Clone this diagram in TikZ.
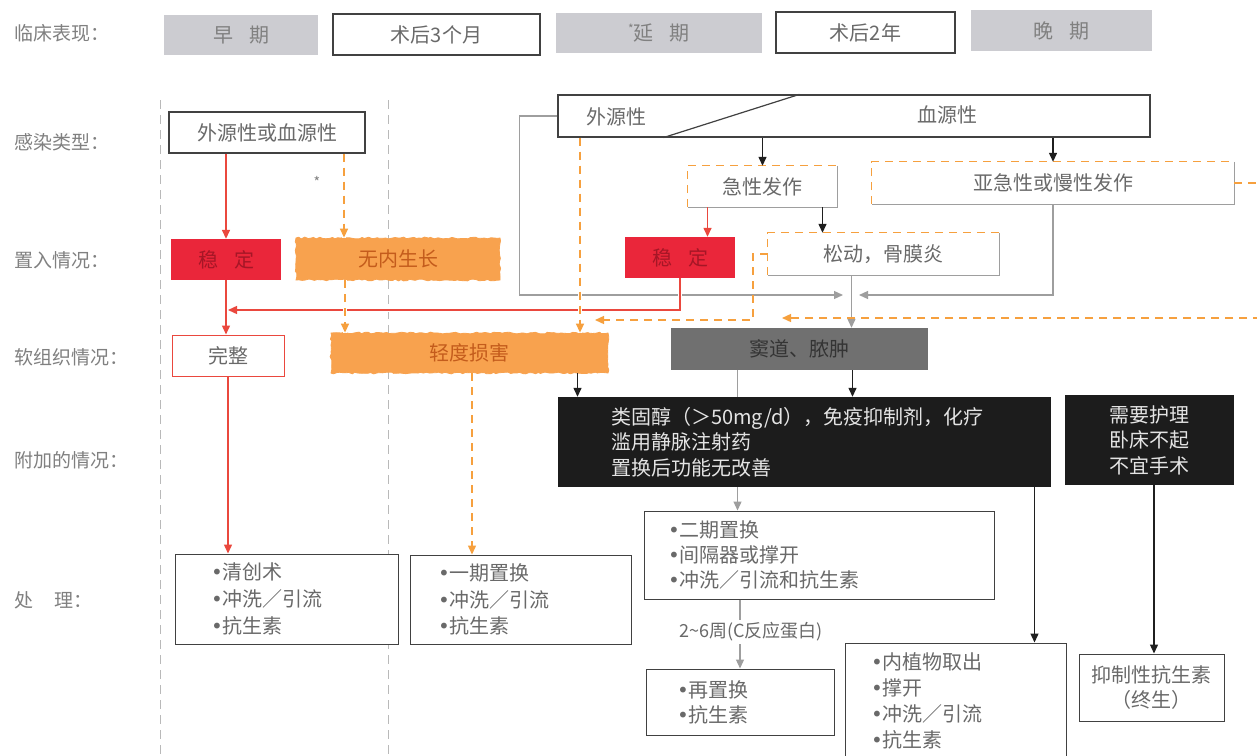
\documentclass[tikz,border=0pt]{standalone}
\usepackage{fontspec}
\setmainfont{Noto Sans CJK SC}
\newfontfamily\dejfont{DejaVu Sans}
\newcommand\mybul{{\dejfont •}}
\usetikzlibrary{arrows.meta,decorations.pathmorphing}
\definecolor{lbl}{RGB}{128,128,128}
\definecolor{txt}{RGB}{105,105,105}
\definecolor{bord}{RGB}{65,65,65}
\definecolor{hatch}{RGB}{204,204,209}
\definecolor{rd}{RGB}{234,38,58}
\definecolor{rdtxt}{RGB}{165,22,38}
\definecolor{rdline}{RGB}{234,72,62}
\definecolor{org}{RGB}{248,162,78}
\definecolor{orgtxt}{RGB}{196,92,28}
\definecolor{orgline}{RGB}{246,160,62}
\definecolor{gline}{RGB}{158,158,158}
\definecolor{sinusfill}{RGB}{112,112,112}
\definecolor{sinustxt}{RGB}{52,52,52}
\definecolor{blk}{RGB}{28,28,28}
\definecolor{blktxt}{RGB}{228,228,228}
\pgfmathsetseed{7}
\begin{document}
\begin{tikzpicture}[x=1pt,y=-1pt,
  every node/.style={font=\fontsize{20}{26}\selectfont, inner sep=0pt},
  lab/.style={anchor=west, text=lbl, font=\fontsize{19}{24}\selectfont},
  hbox/.style={fill=hatch, text=lbl},
  wbox/.style={draw=bord, line width=1.2pt, fill=white, text=txt},
  tbox/.style={draw=bord, line width=1pt, fill=white, text=txt, align=left},
  stabbox/.style={fill=rd, text=rdtxt},
  orbox/.style={fill=org, draw=org, line width=0.8pt, text=orgtxt, decorate,
    decoration={random steps, segment length=3pt, amplitude=0.9pt}},
  mixbox/.style={text=txt},
  blkbox/.style={fill=blk, text=blktxt},
  tip/.style={-{Triangle[length=9pt,width=8pt]}},
  redln/.style={draw=rdline, line width=1.4pt, tip},
  orln/.style={draw=orgline, line width=1.4pt, dash pattern=on 8pt off 6pt, tip},
  blkln/.style={draw=black!88, line width=1.3pt, tip},
  grln/.style={draw=gline, line width=1.2pt},
  grarr/.style={grln, tip},
  halo/.style={preaction={draw=white, line width=4.5pt, solid, -}},
  vline/.style={draw=gray!55, line width=1pt, dash pattern=on 9pt off 6pt},
  ordash/.style={draw=orgline, line width=1.3pt, dash pattern=on 8pt off 6pt},
  grbord/.style={draw=gline, line width=1pt}
]
\fill[white] (0,0) rectangle (1257,755);
\useasboundingbox (0,0) rectangle (1257,755);

% column separators
\draw[vline] (160,100) -- (160,755);
\draw[vline] (388,100) -- (388,755);

% row labels
\node[lab] (l1) at (14,33) {临床表现：};
\node[lab] (l2) at (14,142) {感染类型：};
\node[lab] (l3) at (14,260) {置入情况：};
\node[lab] (l4) at (14,357) {软组织情况：};
\node[lab] (l5) at (14,460) {附加的情况：};
\node[lab] (l6) at (14,600) {处\hspace{1.1em}理：};

% top row
\node[hbox, minimum width=154pt, minimum height=40pt] (t1) at (241,35) {早\hspace{0.8em}期};
\node[wbox, minimum width=207pt, minimum height=41pt] (t2) at (436.5,34.5) {术后3个月};
\node[hbox, minimum width=206pt, minimum height=40pt] (t3) at (659,33) {\raisebox{0.35em}{\fontsize{12}{12}\selectfont *}延\hspace{0.8em}期};
\node[wbox, minimum width=179pt, minimum height=41pt] (t4) at (865.5,32.5) {术后2年};
\node[hbox, minimum width=181pt, minimum height=41pt] (t5) at (1061.5,30.5) {晚\hspace{0.8em}期};

% infection type
\node[wbox, minimum width=196pt, minimum height=41pt] (src) at (267,132.5) {外源性或血源性};
\node[wbox, minimum width=592pt, minimum height=42pt] (big) at (854,116) {};
\draw[bord, line width=1.2pt] ([xshift=106pt]big.south west) -- ([xshift=242pt]big.north west);
\node[text=txt] (exo) at (616,117) {外源性};
\node[text=txt] (hem) at (947,115) {血源性};
\node[text=lbl, font=\fontsize{14}{14}\selectfont] (ast) at (317,182) {*};

% onset
\node[mixbox, minimum width=149pt, minimum height=41pt] (acute) at (762.5,186.5) {急性发作};
\node[mixbox, minimum width=362pt, minimum height=42pt] (sub) at (1053,183) {亚急性或慢性发作};
\node[mixbox, minimum width=231pt, minimum height=42pt] (loose) at (883.5,254) {松动，骨膜炎};
\foreach \n in {acute,sub,loose}{
  \draw[grbord] (\n.north east) -- (\n.south east) -- (\n.south west);
  \draw[ordash] (\n.south west) -- (\n.north west) -- (\n.north east);
}

% implant
\node[stabbox, minimum width=110pt, minimum height=41pt] (stab1) at (226,259.5) {稳\hspace{0.8em}定};
\node[orbox, minimum width=204pt, minimum height=42pt] (noin) at (398,259) {无内生长};
\node[stabbox, minimum width=110pt, minimum height=41pt] (stab2) at (680,257.5) {稳\hspace{0.8em}定};

% soft tissue
\node[draw=rdline, line width=1pt, fill=white, text=txt, minimum width=112pt, minimum height=41pt] (intact) at (228,355.5) {完整};
\node[orbox, minimum width=277pt, minimum height=40pt] (mild) at (469.5,353) {轻度损害};
\node[fill=sinusfill, text=sinustxt, minimum width=257pt, minimum height=42pt] (sinus) at (799.5,349) {窦道、脓肿};

% additional
\node[blkbox, text width=387pt, inner xsep=53pt, minimum height=90pt, align=left, font=\fontsize{20}{25.5}\selectfont] (blk1) at (804.5,442)
  {类固醇（＞50mg/d），免疫抑制剂，化疗\\滥用静脉注射药\\置换后功能无改善};
\node[blkbox, minimum width=169pt, minimum height=90pt, align=center, font=\fontsize{20}{25.5}\selectfont] (blk2) at (1149.5,440)
  {需要护理\\卧床不起\\不宜手术};

% treatment
\node[tbox, text width=151pt, inner xsep=36pt, minimum height=90pt, font=\fontsize{20}{27}\selectfont] (tr1) at (286.5,599)
  {\mybul 清创术\\\mybul 冲洗／引流\\\mybul 抗生素};
\node[tbox, text width=165pt, inner xsep=28pt, minimum height=89pt, font=\fontsize{20}{26.5}\selectfont] (tr2) at (520.5,599.5)
  {\mybul 一期置换\\\mybul 冲洗／引流\\\mybul 抗生素};
\node[tbox, text width=302pt, inner xsep=24pt, minimum height=88pt, font=\fontsize{20}{25}\selectfont] (tr3) at (819,555)
  {\mybul 二期置换\\\mybul 间隔器或撑开\\\mybul 冲洗／引流和抗生素};
\node[tbox, text width=126pt, inner xsep=31pt, minimum height=66pt, font=\fontsize{20}{25}\selectfont] (tr4) at (740,702)
  {\mybul 再置换\\\mybul 抗生素};
\node[tbox, text width=169pt, inner xsep=26pt, minimum height=116pt, font=\fontsize{20}{26}\selectfont] (tr5) at (955.5,701)
  {\mybul 内植物取出\\\mybul 撑开\\\mybul 冲洗／引流\\\mybul 抗生素};
\node[tbox, align=center, minimum width=145pt, minimum height=67pt, font=\fontsize{20}{25}\selectfont] (tr6) at (1151.5,687.5)
  {抑制性抗生素\\（终生）};

% helper coordinates
\coordinate (gj1) at (843,295);
\coordinate (gj2) at (859,295);
\coordinate (rj) at (228,310);
\coordinate (oj1) at (595,320);
\coordinate (oj2) at (782,318);
\coordinate (cA) at ([xshift=77pt]src.south);
\coordinate (cB) at ([xshift=-53pt]noin.south);
\coordinate (cC) at ([xshift=-274pt]big.south);
\coordinate (cD) at ([xshift=-55pt]acute.south);
\coordinate (cE) at ([xshift=60pt]acute.south);
\coordinate (cF) at ([xshift=-32pt]loose.south);
\coordinate (cG) at ([xshift=108pt]mild.south);
\coordinate (cH) at ([xshift=53pt]sinus.south);
\coordinate (cI) at ([xshift=-62pt]sinus.south);
\coordinate (cJ) at ([xshift=-67pt]blk1.south);
\coordinate (cK) at ([xshift=-79pt]tr3.south);
\coordinate (cL) at ([xshift=230pt]blk1.south);
\coordinate (cM) at ([xshift=4.5pt]blk2.south);
\coordinate (cN) at ([xshift=2.5pt]mild.south);

% gray connectors
\draw[grarr] (big.west) -- ++(-38,0) |- (gj1);
\draw[grarr] (sub.south) |- (gj2);
\draw[grarr] (cF) -- (cF |- sinus.north);
\draw[grln] (cI) -- (cI |- blk1.north);
\draw[grarr] (cJ) -- (cJ |- tr3.north);
\draw[grarr] (cK) -- (cK |- tr4.north);
\node[fill=white, text=txt, inner sep=3pt, font=\fontsize{18}{22}\selectfont] (wk) at (751,632) {2\textasciitilde 6周(C反应蛋白)};

% red connectors
\draw[redln] (src.south -| stab1.north) -- (stab1.north);
\draw[redln] (stab1.south) -- (stab1.south |- intact.north);
\draw[redln, halo] (stab2.south) |- (rj);
\draw[redln] (cD) -- (cD |- stab2.north);
\draw[redln] (intact.south) -- (intact.south |- tr1.north);

% orange connectors
\draw[orln, halo] (cA) -- (cA |- noin.north);
\draw[orln, halo] (cB) -- (cB |- mild.north);
\draw[orln, halo] (cC) -- (cC |- mild.north);
\draw[orln] (loose.west) -- ++(-15,0) |- (oj1);
\draw[orln] (sub.east) -- ++(30,0) |- (oj2);
\draw[orln] (cN) -- (cN |- tr2.north);

% black connectors
\draw[blkln] (big.south -| acute.north) -- (acute.north);
\draw[blkln] (big.south -| sub.north) -- (sub.north);
\draw[blkln] (cE) -- (cE |- loose.north);
\draw[blkln] (cG) -- (cG |- blk1.north);
\draw[blkln] (cH) -- (cH |- blk1.north);
\draw[blkln] (cL) -- (cL |- tr5.north);
\draw[blkln] (cM) -- (cM |- tr6.north);
\end{tikzpicture}
\end{document}
